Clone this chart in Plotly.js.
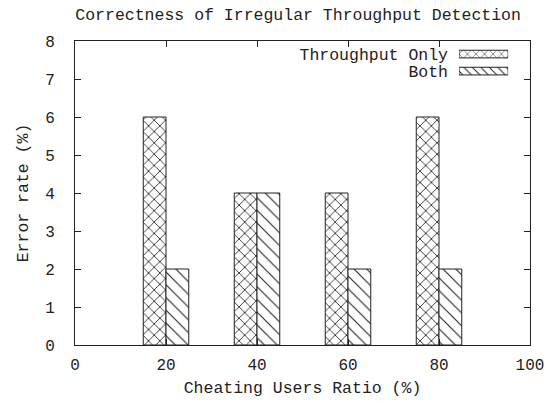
<!DOCTYPE html>
<html>
<head>
<meta charset="utf-8">
<script src="https://cdn.plot.ly/plotly-3.0.1.min.js"></script>
<style>
  body { margin: 0; background: #fff; }
  #chart { width: 547px; height: 405px; }
</style>
</head>
<body>
<div id="chart"></div>
<script>
// ratios of cheating users (%) and the error rates
const ratios = [20, 40, 60, 80];
const throughputOnly = [6, 4, 4, 6];
const both = [2, 4, 2, 2];
const seriesNames = ['Throughput Only', 'Both'];
const xTicks = [0, 20, 40, 60, 80, 100];
const yTicks = [0, 1, 2, 3, 4, 5, 6, 7, 8];

const mono = 'Liberation Mono, DejaVu Sans Mono, monospace';
const patterns = ['x', '\\'];
const patternSizes = [8, 9];
const solidities = [0.2, 0.12];

function barTrace(values, i) {
  return {
    x: ratios,
    y: values,
    name: seriesNames[i],
    type: 'bar',
    width: 5,
    offset: i === 0 ? -5 : 0,
    showlegend: false,
    marker: {
      color: 'white',
      line: { color: '#222', width: 1 },
      pattern: { shape: patterns[i], size: patternSizes[i], solidity: solidities[i], fgcolor: '#222', bgcolor: 'white' }
    },
    hoverinfo: 'x+y+name'
  };
}

// key drawn as a tiny horizontal bar chart, one sample bar per series name
const keyTrace = {
  x: seriesNames.map(() => 1),
  y: seriesNames,
  type: 'bar',
  orientation: 'h',
  xaxis: 'x2',
  yaxis: 'y2',
  showlegend: false,
  hoverinfo: 'skip',
  marker: {
    color: 'white',
    line: { color: '#222', width: 1 },
    pattern: { shape: patterns, size: 6, solidity: 0.16, fgcolor: '#222', bgcolor: 'white' }
  }
};

const data = [barTrace(throughputOnly, 0), barTrace(both, 1), keyTrace];

const layout = {
  width: 547,
  height: 405,
  margin: { l: 75, r: 17, t: 41, b: 60 },
  paper_bgcolor: 'white',
  plot_bgcolor: 'white',
  font: { family: mono, size: 16, color: '#222' },
  title: {
    text: 'Correctness of Irregular Throughput Detection',
    font: { family: mono, size: 16.5, color: '#222' },
    x: 0.545, xanchor: 'center', y: 0.965, yanchor: 'middle'
  },
  barmode: 'overlay',
  bargap: 0.55,
  xaxis: {
    range: [0, 100],
    tickvals: xTicks,
    ticks: 'inside', ticklen: 6, tickcolor: '#222',
    showline: true, linecolor: '#222', linewidth: 1, mirror: 'ticks',
    showgrid: false, zeroline: false,
    tickfont: { family: mono, size: 16 },
    ticklabelstandoff: 5,
    title: { text: 'Cheating Users Ratio (%)', font: { family: mono, size: 16.5 }, standoff: 7 }
  },
  yaxis: {
    range: [0, 8],
    tickvals: yTicks,
    ticks: 'inside', ticklen: 6, tickcolor: '#222',
    showline: true, linecolor: '#222', linewidth: 1, mirror: 'ticks',
    showgrid: false, zeroline: false,
    tickfont: { family: mono, size: 16 },
    ticklabelstandoff: 16,
    title: { text: 'Error rate (%)', font: { family: mono, size: 16.5 }, standoff: 12 }
  },
  xaxis2: {
    domain: [0.844, 0.952],
    anchor: 'y2',
    range: [0, 1],
    visible: false,
    fixedrange: true
  },
  yaxis2: {
    domain: [0.873, 0.985],
    anchor: 'x2',
    autorange: 'reversed',
    tickmode: 'array',
    tickvals: seriesNames,
    showline: false, showgrid: false, zeroline: false,
    ticks: '',
    ticklabelstandoff: 10,
    tickfont: { family: mono, size: 16.5 },
    fixedrange: true
  }
};

Plotly.newPlot('chart', data, layout, { displayModeBar: false, staticPlot: true });
</script>
</body>
</html>
